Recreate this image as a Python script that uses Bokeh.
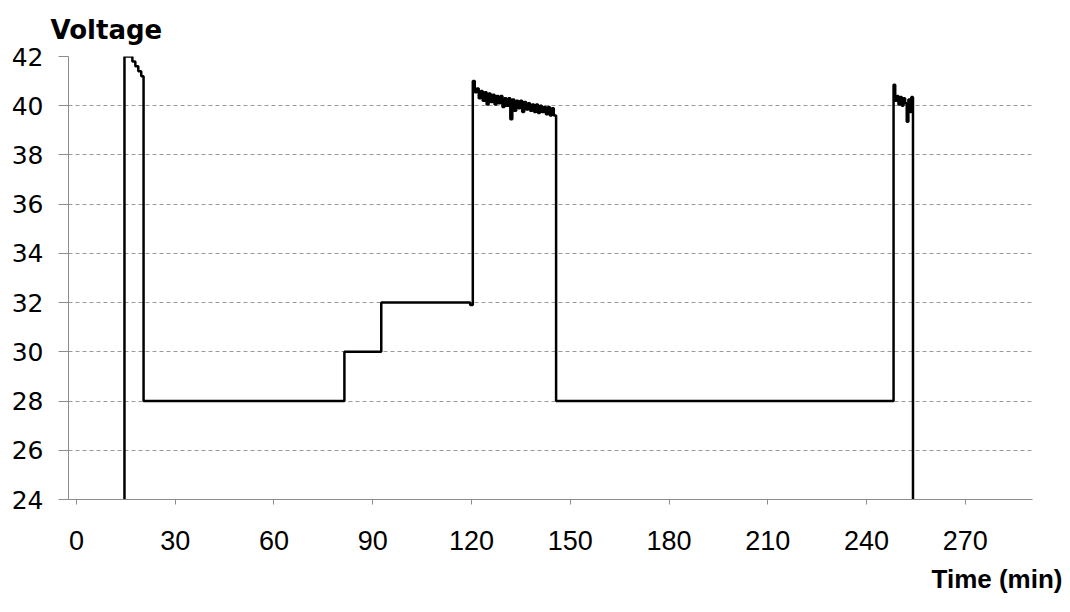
from bokeh.plotting import figure
from bokeh.models import Range1d, FixedTicker, Title
from bokeh.embed import file_html
from bokeh.resources import INLINE

# ---- data (time in minutes, voltage) ----
# first charge pulse, then the 28/30/32 V plateaus
t_part1 = [14.6, 14.6, 17.0, 17.9, 18.8, 19.7, 20.4, 81.4, 92.6, 119.6]
v_part1 = [0.0, 42.0, 41.8, 41.6, 41.4, 41.2, 28.0, 30.0, 32.0, 31.9]

# second high-voltage burst (~120-146 min)
t_part2 = [120.4, 121.0, 121.6, 122.2, 122.8, 123.4, 124.0, 124.6, 125.2, 125.8,
           126.4, 127.0, 127.6, 128.2, 128.8, 129.4, 130.0, 130.6, 131.2, 131.8,
           132.4, 133.0, 133.6, 134.2, 134.8, 135.4, 136.0, 136.6, 137.2, 137.8,
           138.4, 139.0, 139.6, 140.2, 140.8, 141.4, 142.0, 142.6, 143.2, 143.8,
           144.4, 145.0, 145.7]
v_part2 = [41.0, 40.55, 40.7, 40.3, 40.6, 40.2, 40.55, 40.05, 40.5, 40.15,
           40.45, 40.05, 40.4, 40.1, 40.4, 39.95, 40.3, 40.0, 40.3, 39.45,
           40.25, 39.8, 40.2, 39.9, 40.2, 39.75, 40.15, 39.85, 40.1, 39.8,
           40.05, 39.75, 40.05, 39.7, 40.0, 39.75, 39.95, 39.65, 39.95, 39.6,
           39.9, 39.6, 28.0]

# final burst (~248-254 min)
t_part3 = [248.2, 248.7, 249.2, 249.7, 250.2, 250.7, 251.2, 251.7, 252.2,
           252.7, 253.2, 253.6, 254.1]
v_part3 = [40.85, 40.2, 40.4, 40.05, 40.35, 40.0, 40.3, 40.1, 39.35,
           40.25, 39.75, 40.35, 0.0]

time = t_part1 + t_part2 + t_part3
voltage = v_part1 + v_part2 + v_part3

x_ticks = [0, 30, 60, 90, 120, 150, 180, 210, 240, 270]
y_ticks = [24, 26, 28, 30, 32, 34, 36, 38, 40, 42]

p = figure(width=1062, height=604,
           x_range=Range1d(-2.4, 290.4), y_range=Range1d(24, 42),
           output_backend="svg", toolbar_location=None,
           min_border_left=68, min_border_right=30,
           min_border_top=56, min_border_bottom=105)

p.step(time, voltage, mode="after", line_color="black", line_width=2.5)

p.outline_line_color = None
p.background_fill_color = "white"
p.border_fill_color = "white"

p.xgrid.grid_line_color = None
p.ygrid.ticker = FixedTicker(ticks=y_ticks)
p.ygrid.grid_line_color = "#9a9a9a"
p.ygrid.grid_line_dash = "4 3"
p.ygrid.grid_line_width = 1

p.xaxis.ticker = FixedTicker(ticks=x_ticks)
p.yaxis.ticker = FixedTicker(ticks=y_ticks)
for ax in (p.xaxis, p.yaxis):
    ax.axis_line_color = "#8c8c8c"
    ax.major_tick_line_color = "#8c8c8c"
    ax.minor_tick_line_color = None
    ax.major_tick_in = 0
    ax.major_label_text_color = "black"
p.yaxis.major_tick_out = 10
p.yaxis.major_label_standoff = 15
p.yaxis.major_label_text_font = "DejaVu Sans"
p.yaxis.major_label_text_font_size = "25px"
p.xaxis.major_tick_out = 5
p.xaxis.major_label_standoff = 26
p.xaxis.major_label_text_font = "Liberation Sans"
p.xaxis.major_label_text_font_size = "27px"

p.title.text = "Voltage"
p.title.align = "left"
p.title.offset = -18
p.title.standoff = 23
p.title.text_font = "DejaVu Sans"
p.title.text_font_style = "bold"
p.title.text_font_size = "26px"
p.title.text_color = "black"

p.add_layout(Title(text="Time (min)", align="right", offset=-30, standoff=19,
                   text_font="Liberation Sans", text_font_style="bold",
                   text_font_size="26px", text_color="black"), "below")

open("out.html", "w").write(file_html(p, INLINE))
